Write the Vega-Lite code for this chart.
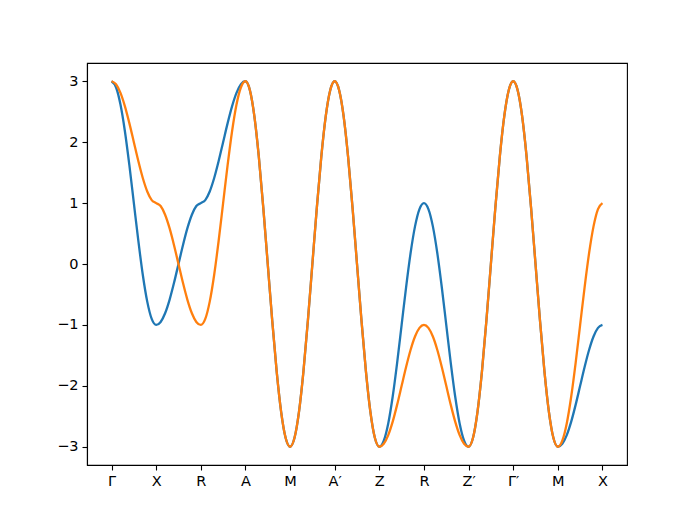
{
  "$schema": "https://vega.github.io/schema/vega-lite/v6.json",
  "width": 540,
  "height": 402,
  "autosize": {"type": "none"},
  "padding": {"left": 87, "top": 63, "right": 70, "bottom": 58},
  "background": "white",
  "config": {
    "view": {"stroke": "black", "strokeWidth": 1.1},
    "font": "DejaVu Sans",
    "axis": {
      "grid": false,
      "domain": true,
      "domainColor": "black",
      "domainWidth": 1.1,
      "tickColor": "black",
      "tickWidth": 1.1,
      "tickSize": 5,
      "labelFont": "DejaVu Sans",
      "labelFontSize": 14.5,
      "labelColor": "black",
      "labelPadding": 4,
      "title": null
    }
  },
  "data": {
    "values": [
      {"k": 0.0, "b1": 3, "b2": 3},
      {"k": 0.1, "b1": 2.902, "b2": 2.951},
      {"k": 0.2, "b1": 2.618, "b2": 2.809},
      {"k": 0.3, "b1": 2.176, "b2": 2.588},
      {"k": 0.4, "b1": 1.618, "b2": 2.309},
      {"k": 0.5, "b1": 1, "b2": 2},
      {"k": 0.6, "b1": 0.382, "b2": 1.691},
      {"k": 0.7, "b1": -0.176, "b2": 1.412},
      {"k": 0.8, "b1": -0.618, "b2": 1.191},
      {"k": 0.9, "b1": -0.902, "b2": 1.049},
      {"k": 1.0, "b1": -1, "b2": 1},
      {"k": 1.1, "b1": -0.951, "b2": 0.951},
      {"k": 1.2, "b1": -0.809, "b2": 0.809},
      {"k": 1.3, "b1": -0.588, "b2": 0.588},
      {"k": 1.4, "b1": -0.309, "b2": 0.309},
      {"k": 1.5, "b1": 0, "b2": 0},
      {"k": 1.6, "b1": 0.309, "b2": -0.309},
      {"k": 1.7, "b1": 0.588, "b2": -0.588},
      {"k": 1.8, "b1": 0.809, "b2": -0.809},
      {"k": 1.9, "b1": 0.951, "b2": -0.951},
      {"k": 2.0, "b1": 1, "b2": -1},
      {"k": 2.1, "b1": 1.049, "b2": -0.902},
      {"k": 2.2, "b1": 1.191, "b2": -0.618},
      {"k": 2.3, "b1": 1.412, "b2": -0.176},
      {"k": 2.4, "b1": 1.691, "b2": 0.382},
      {"k": 2.5, "b1": 2, "b2": 1},
      {"k": 2.6, "b1": 2.309, "b2": 1.618},
      {"k": 2.7, "b1": 2.588, "b2": 2.176},
      {"k": 2.8, "b1": 2.809, "b2": 2.618},
      {"k": 2.9, "b1": 2.951, "b2": 2.902},
      {"k": 3.0, "b1": 3, "b2": 3},
      {"k": 3.1, "b1": 2.853, "b2": 2.853},
      {"k": 3.2, "b1": 2.427, "b2": 2.427},
      {"k": 3.3, "b1": 1.763, "b2": 1.763},
      {"k": 3.4, "b1": 0.927, "b2": 0.927},
      {"k": 3.5, "b1": 0, "b2": 0},
      {"k": 3.6, "b1": -0.927, "b2": -0.927},
      {"k": 3.7, "b1": -1.763, "b2": -1.763},
      {"k": 3.8, "b1": -2.427, "b2": -2.427},
      {"k": 3.9, "b1": -2.853, "b2": -2.853},
      {"k": 4.0, "b1": -3, "b2": -3},
      {"k": 4.1, "b1": -2.853, "b2": -2.853},
      {"k": 4.2, "b1": -2.427, "b2": -2.427},
      {"k": 4.3, "b1": -1.763, "b2": -1.763},
      {"k": 4.4, "b1": -0.927, "b2": -0.927},
      {"k": 4.5, "b1": 0, "b2": 0},
      {"k": 4.6, "b1": 0.927, "b2": 0.927},
      {"k": 4.7, "b1": 1.763, "b2": 1.763},
      {"k": 4.8, "b1": 2.427, "b2": 2.427},
      {"k": 4.9, "b1": 2.853, "b2": 2.853},
      {"k": 5.0, "b1": 3, "b2": 3},
      {"k": 5.1, "b1": 2.853, "b2": 2.853},
      {"k": 5.2, "b1": 2.427, "b2": 2.427},
      {"k": 5.3, "b1": 1.763, "b2": 1.763},
      {"k": 5.4, "b1": 0.927, "b2": 0.927},
      {"k": 5.5, "b1": 0, "b2": 0},
      {"k": 5.6, "b1": -0.927, "b2": -0.927},
      {"k": 5.7, "b1": -1.763, "b2": -1.763},
      {"k": 5.8, "b1": -2.427, "b2": -2.427},
      {"k": 5.9, "b1": -2.853, "b2": -2.853},
      {"k": 6.0, "b1": -3, "b2": -3},
      {"k": 6.1, "b1": -2.902, "b2": -2.951},
      {"k": 6.2, "b1": -2.618, "b2": -2.809},
      {"k": 6.3, "b1": -2.176, "b2": -2.588},
      {"k": 6.4, "b1": -1.618, "b2": -2.309},
      {"k": 6.5, "b1": -1, "b2": -2},
      {"k": 6.6, "b1": -0.382, "b2": -1.691},
      {"k": 6.7, "b1": 0.176, "b2": -1.412},
      {"k": 6.8, "b1": 0.618, "b2": -1.191},
      {"k": 6.9, "b1": 0.902, "b2": -1.049},
      {"k": 7.0, "b1": 1, "b2": -1},
      {"k": 7.1, "b1": 0.902, "b2": -1.049},
      {"k": 7.2, "b1": 0.618, "b2": -1.191},
      {"k": 7.3, "b1": 0.176, "b2": -1.412},
      {"k": 7.4, "b1": -0.382, "b2": -1.691},
      {"k": 7.5, "b1": -1, "b2": -2},
      {"k": 7.6, "b1": -1.618, "b2": -2.309},
      {"k": 7.7, "b1": -2.176, "b2": -2.588},
      {"k": 7.8, "b1": -2.618, "b2": -2.809},
      {"k": 7.9, "b1": -2.902, "b2": -2.951},
      {"k": 8.0, "b1": -3, "b2": -3},
      {"k": 8.1, "b1": -2.853, "b2": -2.853},
      {"k": 8.2, "b1": -2.427, "b2": -2.427},
      {"k": 8.3, "b1": -1.763, "b2": -1.763},
      {"k": 8.4, "b1": -0.927, "b2": -0.927},
      {"k": 8.5, "b1": 0, "b2": 0},
      {"k": 8.6, "b1": 0.927, "b2": 0.927},
      {"k": 8.7, "b1": 1.763, "b2": 1.763},
      {"k": 8.8, "b1": 2.427, "b2": 2.427},
      {"k": 8.9, "b1": 2.853, "b2": 2.853},
      {"k": 9.0, "b1": 3, "b2": 3},
      {"k": 9.1, "b1": 2.853, "b2": 2.853},
      {"k": 9.2, "b1": 2.427, "b2": 2.427},
      {"k": 9.3, "b1": 1.763, "b2": 1.763},
      {"k": 9.4, "b1": 0.927, "b2": 0.927},
      {"k": 9.5, "b1": 0, "b2": 0},
      {"k": 9.6, "b1": -0.927, "b2": -0.927},
      {"k": 9.7, "b1": -1.763, "b2": -1.763},
      {"k": 9.8, "b1": -2.427, "b2": -2.427},
      {"k": 9.9, "b1": -2.853, "b2": -2.853},
      {"k": 10.0, "b1": -3, "b2": -3},
      {"k": 10.1, "b1": -2.951, "b2": -2.902},
      {"k": 10.2, "b1": -2.809, "b2": -2.618},
      {"k": 10.3, "b1": -2.588, "b2": -2.176},
      {"k": 10.4, "b1": -2.309, "b2": -1.618},
      {"k": 10.5, "b1": -2, "b2": -1},
      {"k": 10.6, "b1": -1.691, "b2": -0.382},
      {"k": 10.7, "b1": -1.412, "b2": 0.176},
      {"k": 10.8, "b1": -1.191, "b2": 0.618},
      {"k": 10.9, "b1": -1.049, "b2": 0.902},
      {"k": 11.0, "b1": -1, "b2": 1}
    ]
  },
  "transform": [
    {"fold": ["b1", "b2"], "as": ["band", "E"]}
  ],
  "mark": {"type": "line", "interpolate": "monotone", "strokeWidth": 2.3, "clip": false},
  "encoding": {
    "x": {
      "field": "k",
      "type": "quantitative",
      "scale": {"domain": [-0.55, 11.55], "nice": false, "zero": false},
      "axis": {
        "values": [0, 1, 2, 3, 4, 5, 6, 7, 8, 9, 10, 11],
        "labelExpr": "['Γ','X','R','A','M','A′','Z','R','Z′','Γ′','M','X'][datum.value]",
        "labelFlush": false,
        "labelOverlap": false
      }
    },
    "y": {
      "field": "E",
      "type": "quantitative",
      "scale": {"domain": [-3.3, 3.3], "nice": false, "zero": false},
      "axis": {
        "values": [-3, -2, -1, 0, 1, 2, 3],
        "labelExpr": "replace(datum.label, '-', '−')",
        "labelFlush": false,
        "labelOverlap": false
      }
    },
    "color": {
      "field": "band",
      "type": "nominal",
      "scale": {"domain": ["b1", "b2"], "range": ["#1f77b4", "#ff7f0e"]},
      "legend": null
    }
  }
}
